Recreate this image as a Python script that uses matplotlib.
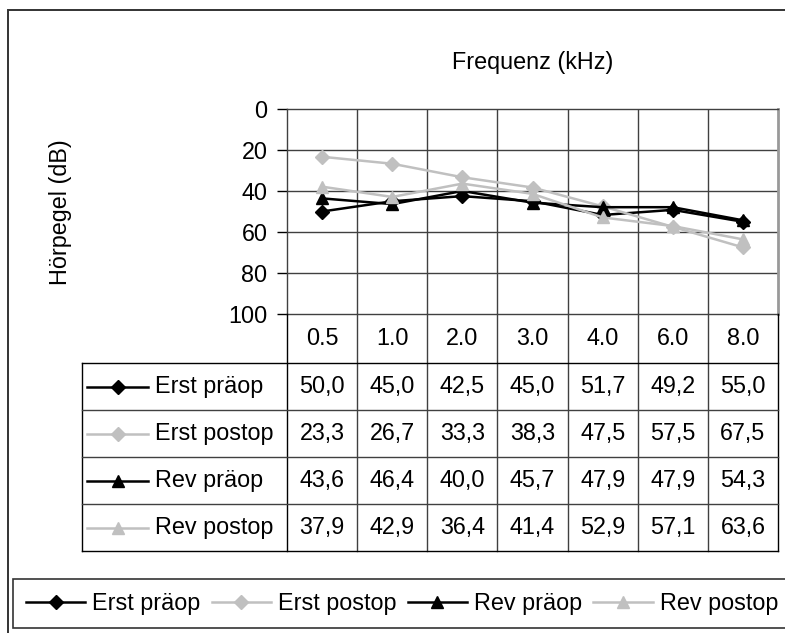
import matplotlib
matplotlib.use("Agg")
import matplotlib.pyplot as plt
from matplotlib.lines import Line2D
from matplotlib.patches import Rectangle

plt.rcParams['font.family'] = ['Liberation Sans', 'DejaVu Sans']

# data
freqs = ["0.5", "1.0", "2.0", "3.0", "4.0", "6.0", "8.0"]
series_names = ["Erst präop", "Erst postop", "Rev präop", "Rev postop"]
erst_praeop = [50.0, 45.0, 42.5, 45.0, 51.7, 49.2, 55.0]
erst_postop = [23.3, 26.7, 33.3, 38.3, 47.5, 57.5, 67.5]
rev_praeop = [43.6, 46.4, 40.0, 45.7, 47.9, 47.9, 54.3]
rev_postop = [37.9, 42.9, 36.4, 41.4, 52.9, 57.1, 63.6]
yticks = [0, 20, 40, 60, 80, 100]

series = [erst_praeop, erst_postop, rev_praeop, rev_postop]
colors = ["black", "#c0c0c0", "black", "#c0c0c0"]
markers = ["D", "D", "^", "^"]
msizes = [7, 7, 9, 9]

W, H = 785, 633
FS = 16.8
GRID = "#404040"


def fx(px):
    return px / W


def fy(py):
    return 1 - py / H


fig = plt.figure(figsize=(W / 100, H / 100), dpi=100)

# outer chart border (cut at right/bottom like the source)
fig.add_artist(Rectangle((fx(8), fy(700)), 2, fy(10) - fy(700),
                         transform=fig.transFigure, fill=False,
                         edgecolor="#333333", linewidth=1.4))

# plot area
pl, pr, pt, pb = 287, 778, 109, 314
ax = fig.add_axes([fx(pl), fy(pb), fx(pr) - fx(pl), fy(pt) - fy(pb)])
x = list(range(len(freqs)))
handles = []
for vals, name, c, m, ms in zip(series, series_names, colors, markers, msizes):
    h, = ax.plot(x, vals, color=c, marker=m, markersize=ms, linewidth=1.8,
                 markeredgecolor=c, label=name, zorder=3)
    handles.append(h)
ax.set_xlim(-0.5, len(freqs) - 0.5)
ax.set_ylim(100, 0)
ax.set_yticks(yticks)
ax.set_yticklabels([str(v) for v in yticks], fontsize=FS)
ax.set_xticks([])
ax.tick_params(axis="y", direction="out", length=7, width=1, pad=7, colors="black")
for yv in yticks[1:-1]:
    ax.axhline(yv, color=GRID, linewidth=1, zorder=1)
for i in range(len(freqs) - 1):
    ax.axvline(i + 0.5, color=GRID, linewidth=1, zorder=1)
for s in ax.spines.values():
    s.set_color(GRID)
    s.set_linewidth(1)
ax.spines["right"].set_color("#999999")
ax.spines["right"].set_linewidth(2)

# data table below the plot
tl, tb = 82, 551
unit = (pr - pl) / len(freqs)
xl = -0.5 - (pl - tl) / unit
tab = fig.add_axes([fx(tl), fy(tb), fx(pr) - fx(tl), fy(pb) - fy(tb)])
tab.set_xlim(xl, len(freqs) - 0.5)
row_edges = [0, 49, 96, 143, 190, 237]
tab.set_ylim(row_edges[-1], 0)
tab.axis("off")

n = len(freqs)
# vertical lines
for i in range(n + 1):
    tab.plot([i - 0.5, i - 0.5], [0, row_edges[-1]], color=GRID if 0 < i < n else "black",
             linewidth=1, clip_on=False)
tab.plot([xl, xl], [row_edges[1], row_edges[-1]], color="black", linewidth=1, clip_on=False)
# horizontal lines
for j, ye in enumerate(row_edges[1:], start=1):
    tab.plot([xl, n - 0.5], [ye, ye], color="black" if j in (1, len(row_edges) - 1) else GRID,
             linewidth=1, clip_on=False)

# category row
for i, f in enumerate(freqs):
    tab.text(i, (row_edges[0] + row_edges[1]) / 2, f, ha="center", va="center", fontsize=FS)

# series rows
key_l = xl + 5 / unit
key_r = xl + 66 / unit
text_x = xl + 73 / unit
for j, (vals, name, c, m, ms) in enumerate(zip(series, series_names, colors, markers, msizes)):
    yc = (row_edges[j + 1] + row_edges[j + 2]) / 2
    tab.add_line(Line2D([key_l, key_r], [yc, yc], color=c, linewidth=1.8, clip_on=False))
    tab.add_line(Line2D([(key_l + key_r) / 2], [yc], color=c, marker=m, markersize=ms,
                        markeredgecolor=c, linestyle="none", clip_on=False))
    tab.text(text_x, yc, name, ha="left", va="center", fontsize=FS)
    for i, v in enumerate(vals):
        tab.text(i, yc, f"{v:.1f}".replace(".", ","), ha="center", va="center", fontsize=FS)

# titles
fig.text(fx(533), fy(62), "Frequenz (kHz)", ha="center", va="center", fontsize=FS)
fig.text(fx(60), fy(212), "Hörpegel (dB)", ha="center", va="center", rotation=90, fontsize=FS)

# legend at the bottom
leg = fig.legend(handles=handles, loc="lower left", bbox_to_anchor=(fx(13), fy(628)),
                 ncol=4, fontsize=FS, frameon=True, fancybox=False, borderaxespad=0,
                 handlelength=2.55, handletextpad=0.3, columnspacing=0.47, borderpad=0.55)
leg.get_frame().set_edgecolor("black")
leg.get_frame().set_linewidth(1.2)

fig.savefig("out.png", dpi=100)
